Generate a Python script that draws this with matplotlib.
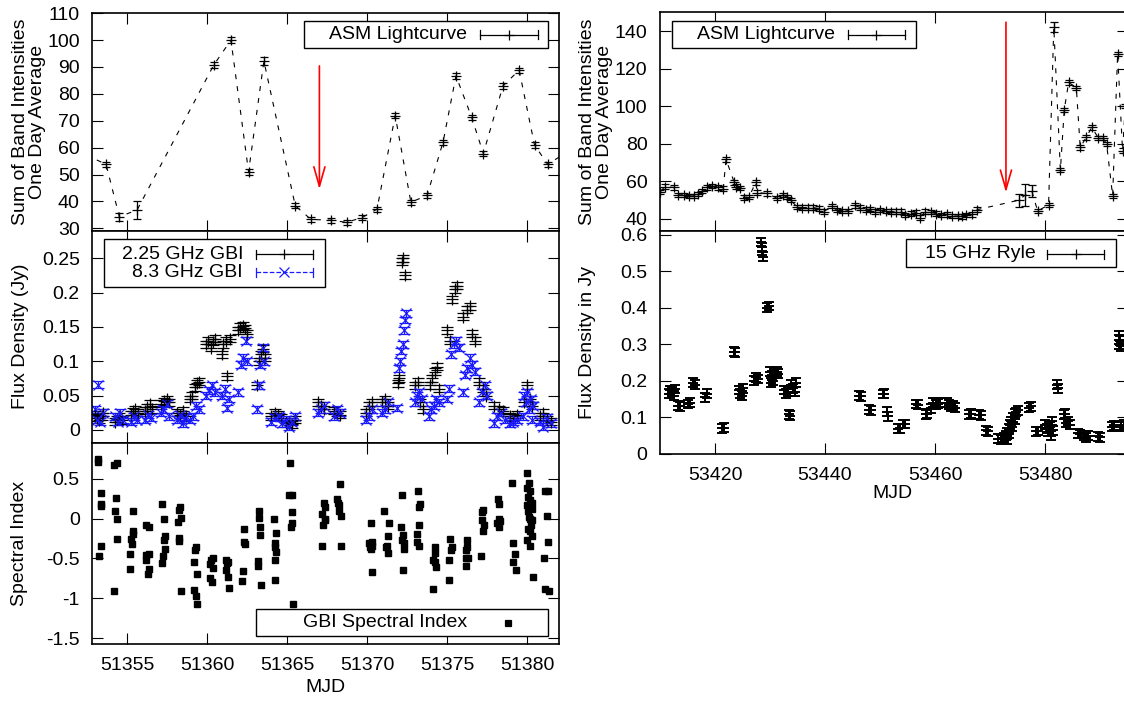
import numpy as np
import matplotlib
matplotlib.use('Agg')
import matplotlib.pyplot as plt
from matplotlib.patches import Rectangle
from matplotlib.lines import Line2D
from matplotlib.ticker import FormatStrFormatter

plt.rcParams['font.family'] = ['Liberation Sans', 'DejaVu Sans']
plt.rcParams['axes.unicode_minus'] = False

# ---- 1999 outburst (left column) ----
asm1_mjd = [51352.4, 51353.66, 51354.49, 51355.6, 51360.4, 51361.47, 51362.57, 51363.53,
            51365.49, 51366.47, 51367.72, 51368.7, 51369.67, 51370.6, 51371.74, 51372.72,
            51373.73, 51374.73, 51375.54, 51376.52, 51377.25, 51378.48, 51379.49, 51380.45,
            51381.27, 51382.4]
asm1_val = [57.3, 53.8, 34.3, 36.8, 90.8, 100.0, 51.0, 92.2, 38.4, 33.3, 33.0, 32.2, 34.0,
            37.1, 71.9, 39.7, 42.2, 62.0, 86.7, 71.3, 57.8, 83.0, 88.8, 61.0, 53.8, 58.0]
asm1_err = [1.0, 1.0, 1.5, 3.3, 1.0, 1.0, 1.0, 1.5, 1.0, 1.0, 1.0, 1.0, 1.0, 1.0, 1.0, 1.0,
            1.0, 1.0, 1.0, 1.0, 1.0, 1.0, 1.0, 1.0, 1.0, 1.0]

gbi2_mjd = [51352.95, 51353.1, 51353.25, 51353.4, 51353.5, 51354.2, 51354.35, 51354.5, 51354.65,
            51355.2, 51355.35, 51355.5, 51355.65, 51356.1, 51356.25, 51356.4, 51356.55,
            51357.1, 51357.3, 51357.45, 51357.6, 51358.1, 51358.3, 51358.5, 51358.65,
            51358.9, 51359.05, 51359.2, 51359.35, 51359.5, 51359.9, 51360.05, 51360.2, 51360.35, 51360.5,
            51360.9, 51361.0, 51361.15, 51361.25, 51361.4, 51361.9, 51362.05, 51362.2, 51362.35, 51362.5,
            51363.1, 51363.2, 51363.35, 51363.5, 51363.6, 51364.0, 51364.2, 51364.4, 51364.6,
            51364.9, 51365.1, 51365.3, 51365.5, 51366.9, 51367.1, 51367.3, 51367.9, 51368.1, 51368.3,
            51369.9, 51370.1, 51370.3, 51370.9, 51371.1, 51371.3,
            51371.9, 51372.0, 51372.15, 51372.25, 51372.35, 51373.0, 51373.15, 51373.3, 51373.45,
            51373.9, 51374.05, 51374.2, 51374.35, 51374.45, 51375.0, 51375.15, 51375.3, 51375.45, 51375.6,
            51376.0, 51376.2, 51376.4, 51376.55, 51376.7, 51377.0, 51377.2, 51377.4,
            51377.9, 51378.2, 51378.5, 51378.9, 51379.1, 51379.35, 51379.8, 51380.0, 51380.15, 51380.3,
            51380.8, 51381.0, 51381.2, 51381.5]
gbi2_flux = [0.022, 0.018, 0.015, 0.020, 0.025, 0.012, 0.016, 0.020, 0.014,
             0.022, 0.027, 0.030, 0.025, 0.028, 0.033, 0.038, 0.030,
             0.038, 0.042, 0.045, 0.040, 0.025, 0.022, 0.028, 0.020,
             0.045, 0.050, 0.062, 0.068, 0.070, 0.125, 0.130, 0.120, 0.128, 0.133,
             0.110, 0.125, 0.130, 0.078, 0.133, 0.145, 0.150, 0.152, 0.148, 0.140,
             0.065, 0.100, 0.110, 0.118, 0.105, 0.020, 0.025, 0.022, 0.018,
             0.010, 0.012, 0.008, 0.015, 0.040, 0.035, 0.030, 0.028, 0.025, 0.022,
             0.025, 0.035, 0.040, 0.040, 0.045, 0.035,
             0.068, 0.075, 0.245, 0.250, 0.225, 0.065, 0.070, 0.040, 0.030,
             0.065, 0.075, 0.085, 0.092, 0.060, 0.145, 0.130, 0.190, 0.205, 0.210,
             0.165, 0.175, 0.180, 0.140, 0.130, 0.070, 0.060, 0.050,
             0.035, 0.030, 0.028, 0.020, 0.018, 0.022, 0.040, 0.065, 0.045, 0.035,
             0.020, 0.025, 0.015, 0.012]

gbi8_mjd = [51353.15, 51352.95, 51353.1, 51353.3, 51353.45, 51354.2, 51354.4, 51354.55, 51354.7,
            51355.2, 51355.4, 51355.6, 51356.1, 51356.3, 51356.5, 51357.1, 51357.25, 51357.45, 51357.6,
            51358.1, 51358.3, 51358.45, 51358.6, 51358.9, 51359.1, 51359.3, 51359.45,
            51359.9, 51360.1, 51360.3, 51360.45, 51360.9, 51361.1, 51361.2, 51361.35,
            51361.9, 51362.1, 51362.25, 51362.4, 51362.5, 51363.1, 51363.2, 51363.3, 51363.45, 51363.55,
            51364.0, 51364.25, 51364.45, 51364.65, 51364.9, 51365.1, 51365.3, 51365.5,
            51366.9, 51367.1, 51367.3, 51367.9, 51368.1, 51368.3, 51369.9, 51370.1, 51370.3,
            51370.9, 51371.1, 51371.3, 51371.85, 51371.95, 51372.05, 51372.1, 51372.2, 51372.3, 51372.35, 51372.4,
            51372.95, 51373.1, 51373.25, 51373.4, 51373.85, 51374.0, 51374.15, 51374.3, 51374.45,
            51374.95, 51375.1, 51375.25, 51375.4, 51375.55, 51375.7,
            51375.95, 51376.1, 51376.25, 51376.4, 51376.55, 51376.7, 51376.95, 51377.15, 51377.35, 51377.5,
            51377.9, 51378.1, 51378.35, 51378.6, 51378.9, 51379.1, 51379.35,
            51379.7, 51379.8, 51379.9, 51380.0, 51380.1, 51380.2, 51380.3, 51380.35,
            51380.8, 51381.0, 51381.2, 51381.45]
gbi8_flux = [0.066, 0.030, 0.015, 0.012, 0.025, 0.020, 0.012, 0.025, 0.015,
             0.012, 0.020, 0.015, 0.015, 0.022, 0.018, 0.025, 0.030, 0.038, 0.020,
             0.015, 0.022, 0.010, 0.018, 0.015, 0.020, 0.035, 0.030,
             0.050, 0.058, 0.065, 0.055, 0.050, 0.060, 0.032, 0.045,
             0.055, 0.095, 0.105, 0.130, 0.100, 0.030, 0.065, 0.095, 0.120, 0.100,
             0.012, 0.018, 0.020, 0.010, 0.015, 0.005, 0.012, 0.020,
             0.025, 0.030, 0.035, 0.020, 0.030, 0.025, 0.015, 0.020, 0.030,
             0.025, 0.030, 0.040, 0.032, 0.090, 0.100, 0.115, 0.125, 0.145, 0.160, 0.170,
             0.040, 0.050, 0.055, 0.045, 0.020, 0.030, 0.035, 0.045, 0.040,
             0.045, 0.060, 0.110, 0.125, 0.130, 0.120,
             0.055, 0.080, 0.090, 0.105, 0.095, 0.085, 0.040, 0.055, 0.065, 0.050,
             0.010, 0.020, 0.025, 0.015, 0.010, 0.012, 0.015,
             0.020, 0.050, 0.040, 0.055, 0.030, 0.045, 0.015, 0.035,
             0.012, 0.005, 0.018, 0.010]

spec_mjd = [51353.17, 51353.17, 51353.21, 51353.33, 51353.33, 51353.33, 51353.37,
            51354.15, 51354.15, 51354.33, 51354.26, 51354.22, 51354.33, 51354.33,
            51355.16, 51355.16, 51355.22, 51355.31, 51355.33, 51355.33, 51355.33,
            51356.16, 51356.34, 51356.16, 51356.16, 51356.34, 51356.34, 51356.27,
            51357.17, 51357.23, 51357.17, 51357.28, 51357.32, 51357.28, 51357.32,
            51358.17, 51358.21, 51358.28, 51358.35, 51358.24, 51358.24, 51358.35,
            51359.17, 51359.24, 51359.29, 51359.17, 51359.29, 51359.35, 51359.33,
            51360.18, 51360.25, 51360.36, 51360.18, 51360.31, 51360.36,
            51361.14, 51361.21, 51361.3, 51361.14, 51361.3, 51361.36,
            51362.19, 51362.23, 51362.3, 51362.3, 51362.32,
            51363.15, 51363.15, 51363.21, 51363.21, 51363.3, 51363.3, 51363.37,
            51364.15, 51364.2, 51364.2, 51364.26, 51364.2, 51364.2, 51364.31,
            51365.16, 51365.13, 51365.31, 51365.27, 51365.2, 51365.31, 51365.36,
            51367.17, 51367.23, 51367.17, 51367.28, 51367.32, 51367.32, 51367.32,
            51368.1, 51368.17, 51368.21, 51368.21, 51368.33, 51368.28, 51368.33,
            51370.22, 51370.13, 51370.18, 51370.29, 51370.29, 51370.22, 51370.29,
            51371.07, 51371.18, 51371.25, 51371.29, 51371.29, 51371.34,
            51372.14, 51372.12, 51372.23, 51372.19, 51372.3, 51372.3, 51372.23,
            51373.19, 51373.24, 51373.3, 51373.24, 51373.13, 51373.13, 51373.24,
            51374.13, 51374.2, 51374.24, 51374.2, 51374.29, 51374.13,
            51375.18, 51375.13, 51375.13, 51375.31, 51375.25,
            51376.14, 51376.14, 51376.21, 51376.25, 51376.29, 51376.14,
            51377.1, 51377.14, 51377.19, 51377.21, 51377.25, 51377.28,
            51378.15, 51378.26, 51378.1, 51378.21, 51378.26, 51378.3,
            51379.06, 51379.13, 51379.13, 51379.2, 51379.31,
            51380.0, 51380.09, 51380.0, 51380.16, 51380.04, 51380.16, 51380.27, 51380.0, 51380.04,
            51380.09, 51380.16, 51380.22, 51380.04, 51380.27, 51380.16, 51380.0, 51380.27,
            51380.16, 51380.33, 51380.31,
            51381.05, 51381.09, 51381.27, 51381.23, 51381.27, 51381.09, 51381.34]
spec_val = [0.75, 0.71, -0.47, 0.32, 0.18, 0.16, -0.34,
            -0.91, 0.67, 0.69, 0.26, 0.10, 0.00, -0.25,
            -0.44, -0.63, -0.25, -0.32, -0.15, -0.19, 0.09,
            -0.08, -0.10, -0.46, -0.52, -0.44, -0.63, -0.70,
            0.18, -0.47, -0.56, -0.01, -0.22, -0.27, -0.38,
            -0.04, 0.11, 0.14, 0.01, -0.24, -0.28, -0.91,
            -0.54, -0.40, -0.36, -0.90, -0.97, -1.07, -0.69,
            -0.57, -0.52, -0.49, -0.74, -0.80, -0.62,
            -0.52, -0.56, -0.55, -0.65, -0.73, -0.87,
            -0.78, -0.66, -0.13, -0.29, -0.32,
            -0.53, -0.59, 0.10, 0.01, -0.10, -0.20, -0.83,
            0.00, -0.31, -0.36, -0.42, -0.52, -0.77, -0.18,
            0.70, 0.29, 0.29, 0.08, -0.10, -0.06, -1.07,
            0.06, -0.08, -0.34, 0.19, 0.15, 0.00, -0.02,
            0.25, 0.20, 0.17, 0.10, 0.03, 0.43, -0.35,
            -0.06, -0.31, -0.36, -0.29, -0.34, -0.38, -0.67,
            0.09, -0.36, -0.34, -0.22, -0.43, -0.06,
            0.29, -0.10, -0.20, -0.27, -0.31, -0.38, -0.64,
            0.34, 0.14, 0.18, -0.08, -0.19, -0.29, -0.34,
            -0.88, -0.36, -0.43, -0.54, -0.61, -0.52,
            -0.25, -0.52, -0.77, -0.36, -0.40,
            -0.59, -0.50, -0.36, -0.27, -0.49, -0.39,
            -0.47, 0.08, -0.02, -0.16, 0.11, -0.08,
            0.24, 0.18, -0.06, 0.00, -0.10, -0.03,
            0.44, -0.30, -0.54, -0.45, -0.64,
            0.57, 0.45, 0.38, 0.34, 0.27, 0.23, 0.19, 0.17, 0.10,
            0.02, 0.00, -0.08, -0.13, 0.12, -0.15, -0.27, -0.22,
            -0.34, -0.73, -0.02,
            -0.49, 0.34, 0.35, 0.03, -0.29, -0.88, -0.91]

# ---- 2005 outburst (right column) ----
asm2_mjd = [53410.05, 53410.9, 53412.5, 53413.3, 53414.3, 53415.3, 53416.1, 53416.9, 53417.7,
            53418.6, 53419.5, 53420.5, 53421.5, 53422.0, 53423.5, 53423.8, 53424.5, 53425.2,
            53426.2, 53427.4, 53427.7, 53429.4, 53431.3, 53432.3, 53433.0, 53433.8, 53434.9,
            53435.9, 53436.9, 53437.9, 53438.9, 53439.8, 53441.2, 53442.1, 53443.1, 53444.1,
            53445.4, 53446.4, 53447.4, 53448.2, 53449.0, 53450.0, 53451.0, 53452.0, 53452.9,
            53453.9, 53454.6, 53455.6, 53456.5, 53457.2, 53458.2, 53459.2, 53460.1, 53461.1,
            53462.1, 53463.1, 53464.1, 53464.9, 53465.7, 53466.7, 53467.7, 53475.2, 53476.4,
            53477.6, 53478.65, 53480.65, 53481.6, 53482.8, 53483.5, 53484.3, 53485.7, 53486.4,
            53487.5, 53488.5, 53489.7, 53490.5, 53491.2, 53492.3, 53493.2, 53494.1, 53494.6]
asm2_val = [54.3, 57.0, 56.6, 52.7, 52.7, 52.1, 52.1, 53.0, 54.8,
            56.6, 57.3, 56.6, 56.0, 71.6, 59.3, 57.1, 56.2, 51.2,
            51.6, 59.3, 53.9, 53.4, 50.9, 52.7, 51.6, 49.8, 46.2,
            45.9, 45.9, 45.9, 45.3, 43.7, 46.8, 44.6, 44.1, 44.1,
            47.1, 45.9, 44.8, 45.0, 43.7, 44.6, 44.1, 43.7, 43.7,
            43.7, 42.0, 42.7, 43.2, 40.5, 43.7, 43.4, 42.7, 42.0,
            42.3, 41.4, 41.4, 41.2, 42.0, 42.3, 44.8, 49.8, 52.6,
            54.8, 44.1, 47.3, 142.1, 65.9, 98.0, 112.7, 109.7, 78.0,
            83.3, 88.7, 83.0, 83.0, 79.8, 52.1, 127.9, 76.2, 100.0]
asm2_err = [1.2] * 61 + [3.4, 6.0, 3.3, 1.2, 1.2, 2.8] + [1.2] * 14

ryle_mjd = [53411.6, 53411.9, 53412.2, 53412.5, 53412.8, 53413.2, 53413.7, 53415.0, 53415.4,
            53416.0, 53416.4, 53418.2, 53418.6, 53421.2, 53421.6, 53423.4, 53423.7,
            53424.4, 53424.6, 53424.9, 53425.0, 53427.1, 53427.5, 53427.8,
            53428.4, 53428.5, 53428.6, 53428.7, 53429.5, 53429.8,
            53430.0, 53430.2, 53430.4, 53430.6, 53430.9, 53431.2, 53431.5,
            53432.6, 53432.9, 53433.2, 53433.4, 53433.7, 53433.9, 53434.2, 53434.5, 53434.7,
            53446.1, 53446.5, 53448.0, 53448.3, 53450.5, 53450.8, 53451.3, 53451.5,
            53453.2, 53453.6, 53454.2, 53454.5, 53456.6, 53456.9, 53458.3, 53458.6,
            53459.3, 53459.7, 53460.1, 53460.5, 53460.9, 53462.1, 53462.5, 53462.9, 53463.3, 53463.7,
            53466.2, 53466.6, 53468.0, 53468.4, 53469.3, 53469.6, 53471.5, 53472.0,
            53472.6, 53472.9, 53473.1, 53473.4, 53473.7, 53473.9, 53474.2, 53474.5, 53474.8, 53475.1,
            53473.0, 53473.5, 53474.0, 53474.6,
            53477.1, 53477.4, 53478.4, 53478.7,
            53480.0, 53480.3, 53480.6, 53480.9, 53481.2, 53481.5, 53481.0,
            53482.1, 53482.3, 53483.4, 53483.7, 53483.9, 53484.2, 53484.5,
            53486.0, 53486.3, 53487.0, 53487.4, 53487.8, 53489.6, 53490.0,
            53492.1, 53492.5, 53493.4, 53493.6, 53493.8, 53493.5, 53493.9, 53494.3]
ryle_flux = [0.165, 0.175, 0.170, 0.160, 0.178, 0.132, 0.130, 0.137, 0.140,
             0.195, 0.190, 0.155, 0.165, 0.070, 0.072, 0.280, 0.278,
             0.175, 0.165, 0.160, 0.180, 0.200, 0.210, 0.205,
             0.580, 0.565, 0.555, 0.540, 0.400, 0.405,
             0.225, 0.195, 0.215, 0.200, 0.220, 0.225, 0.220,
             0.175, 0.165, 0.170, 0.109, 0.105, 0.190, 0.180, 0.170, 0.195,
             0.160, 0.158, 0.121, 0.120, 0.164, 0.165, 0.116, 0.103,
             0.069, 0.070, 0.082, 0.082, 0.137, 0.135, 0.109, 0.110,
             0.125, 0.140, 0.135, 0.138, 0.140, 0.140, 0.135, 0.130, 0.132, 0.127,
             0.109, 0.110, 0.107, 0.106, 0.065, 0.062, 0.042, 0.040,
             0.045, 0.050, 0.060, 0.070, 0.080, 0.090, 0.100, 0.110, 0.115, 0.120,
             0.040, 0.055, 0.075, 0.095,
             0.127, 0.130, 0.062, 0.063,
             0.080, 0.070, 0.060, 0.075, 0.090, 0.065, 0.050,
             0.190, 0.180, 0.109, 0.110, 0.085, 0.090, 0.080,
             0.057, 0.055, 0.050, 0.045, 0.050, 0.048, 0.046,
             0.075, 0.078, 0.300, 0.310, 0.295, 0.325, 0.075, 0.080]

W, H = 1124, 701
fig = plt.figure(figsize=(W / 100, H / 100), dpi=100)


def fx(px):
    return px / W


def fy(py):
    return 1 - py / H


def panel(x0, y0, x1, y1):
    ax = fig.add_axes([fx(x0), fy(y1), fx(x1) - fx(x0), fy(y0) - fy(y1)])
    ax.tick_params(direction='in', top=True, right=True, length=8, width=0.8,
                   labelsize=14, pad=9)
    for s in ax.spines.values():
        s.set_linewidth(1.2)
    return ax


# left column
axA = panel(92.3, 12.7, 559.3, 230.7)
axB = panel(92.3, 230.7, 559.3, 442.7)
axC = panel(92.3, 442.7, 559.3, 644.3)
for ax in (axA, axB, axC):
    ax.set_xlim(51352.8, 51382.0)
    ax.set_xticks([51355, 51360, 51365, 51370, 51375, 51380])
    ax.xaxis.set_major_formatter(FormatStrFormatter('%d'))
for ax in (axA, axB):
    ax.tick_params(labelbottom=False)

dash = (0, (4.5, 6.3))
axA.plot(asm1_mjd, asm1_val, color='black', lw=0.8, linestyle=dash)
axA.errorbar(asm1_mjd, asm1_val, yerr=asm1_err, fmt='+', color='black', ms=6.5,
             mew=0.9, elinewidth=0.9, capsize=3.2, capthick=0.9)
axA.annotate('', xy=(51367.0, 44.5), xytext=(51367.0, 90.4),
             arrowprops=dict(arrowstyle='->,head_length=0.7,head_width=0.2', color='red',
                             lw=1.2, mutation_scale=20, shrinkA=0, shrinkB=0))
axA.set_ylim(29.1, 110.2)
axA.set_yticks(np.arange(30, 111, 10))

axB.errorbar(gbi2_mjd, gbi2_flux, yerr=0.005, fmt='+', color='black', ms=8, mew=0.9,
             elinewidth=0.9, capsize=4.3, capthick=0.9)
axB.errorbar(gbi8_mjd, gbi8_flux, yerr=0.005, fmt='x', color='#1a1aff', ms=7, mew=0.9,
             elinewidth=0.9, capsize=4.3, capthick=0.9)
axB.set_ylim(-0.0185, 0.29)
axB.set_yticks([0, 0.05, 0.1, 0.15, 0.2, 0.25])
axB.yaxis.set_major_formatter(FormatStrFormatter('%g'))

axC.plot(spec_mjd, spec_val, 's', color='black', ms=3.8)
axC.set_ylim(-1.575, 0.95)
axC.set_yticks([-1.5, -1, -0.5, 0, 0.5])
axC.yaxis.set_major_formatter(FormatStrFormatter('%g'))

# right column
axD = panel(660, 12.3, 1127.5, 231)
axE = panel(660, 231, 1127.5, 454)
for ax in (axD, axE):
    ax.set_xlim(53410, 53495)
    ax.set_xticks([53420, 53440, 53460, 53480])
    ax.xaxis.set_major_formatter(FormatStrFormatter('%d'))
axD.tick_params(labelbottom=False)

axD.plot(asm2_mjd, asm2_val, color='black', lw=0.8, linestyle=dash)
axD.errorbar(asm2_mjd, asm2_val, yerr=asm2_err, fmt='+', color='black', ms=6.5,
             mew=0.9, elinewidth=0.9, capsize=3.2, capthick=0.9)
axD.annotate('', xy=(53472.9, 53.9), xytext=(53472.9, 144.7),
             arrowprops=dict(arrowstyle='->,head_length=0.7,head_width=0.2', color='red',
                             lw=1.2, mutation_scale=20, shrinkA=0, shrinkB=0))
axD.set_ylim(33.4, 150)
axD.set_yticks(np.arange(40, 141, 20))

axE.errorbar(ryle_mjd, ryle_flux, yerr=0.012, fmt='+', color='black', ms=7.5, mew=1.4,
             elinewidth=1.3, capsize=3.5, capthick=1.3)
axE.set_ylim(0, 0.61)
axE.set_yticks([0, 0.1, 0.2, 0.3, 0.4, 0.5, 0.6])
axE.yaxis.set_major_formatter(FormatStrFormatter('%g'))

# axis titles
fig.text(fx(29), fy(121.7), 'Sum of Band Intensities\nOne Day Average', rotation=90,
         ha='center', va='center', fontsize=14, multialignment='center', linespacing=0.95)
fig.text(fx(20.5), fy(336.7), 'Flux Density (Jy)', rotation=90, ha='center', va='center', fontsize=14)
fig.text(fx(19.5), fy(543.5), 'Spectral Index', rotation=90, ha='center', va='center', fontsize=14)
fig.text(fx(325.8), fy(688), 'MJD', ha='center', va='center', fontsize=14)
fig.text(fx(596), fy(121.7), 'Sum of Band Intensities\nOne Day Average', rotation=90,
         ha='center', va='center', fontsize=14, multialignment='center', linespacing=0.95)
fig.text(fx(587.5), fy(342.5), 'Flux Density in Jy', rotation=90, ha='center', va='center', fontsize=14)
fig.text(fx(892.5), fy(493), 'MJD', ha='center', va='center', fontsize=14)


# gnuplot-style keys
def key_box(x0, y0, x1, y1):
    fig.add_artist(Rectangle((fx(x0), fy(y1)), fx(x1) - fx(x0), fy(y0) - fy(y1),
                             transform=fig.transFigure, facecolor='white',
                             edgecolor='black', lw=1.0, zorder=5))


def key_entry(label, tx, ty, sx0, sx1, color='black', marker='+', ls='-', cap=4.5, ms=7,
              bars=True):
    fig.text(fx(tx), fy(ty), label, ha='right', va='center', fontsize=14, zorder=6)
    if bars:
        fig.add_artist(Line2D([fx(sx0), fx(sx1)], [fy(ty), fy(ty)], transform=fig.transFigure,
                              color=color, lw=0.9, linestyle=ls, zorder=6))
        for sx in (sx0, sx1):
            fig.add_artist(Line2D([fx(sx), fx(sx)], [fy(ty - cap), fy(ty + cap)],
                                  transform=fig.transFigure, color=color, lw=0.9, zorder=6))
    fig.add_artist(Line2D([fx((sx0 + sx1) / 2)], [fy(ty)], transform=fig.transFigure,
                          color=color, marker=marker, ms=ms, mew=0.9, linestyle='none', zorder=6))


key_box(303.6, 20.7, 548, 48.3)
key_entry('ASM Lightcurve', 467, 34.5, 480, 537.5)

key_box(103.6, 239.3, 325, 286.7)
key_entry('2.25 GHz GBI', 243, 254.3, 256.4, 312.5)
key_entry('8.3 GHz GBI', 243, 272.3, 256.4, 312.5, color='#1a1aff', marker='x', ls='--')

key_box(256.4, 609, 548, 636)
key_entry('GBI Spectral Index', 467, 622.7, 490, 526, marker='s', ms=3.8, bars=False)

key_box(671.5, 20.7, 916, 48.3)
key_entry('ASM Lightcurve', 835, 34.5, 847.8, 904.6)

key_box(906, 239.3, 1116, 267.3)
key_entry('15 GHz Ryle', 1035.5, 254, 1047.4, 1104)

fig.savefig('out.png', dpi=100)
